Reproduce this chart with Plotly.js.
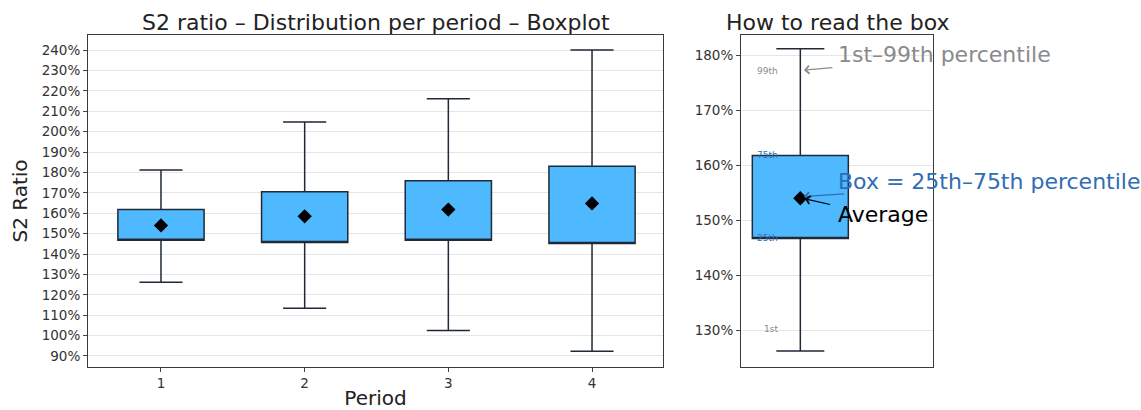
<!DOCTYPE html>
<html>
<head>
<meta charset="utf-8">
<script src="https://cdn.plot.ly/plotly-3.0.1.min.js"></script>
<style>html,body{margin:0;padding:0;background:#fff;}#chart{width:1141px;height:410px;}</style>
</head>
<body>
<div id="chart"></div>
<script>
// ---- data (S2 ratio, %) ----
const periods = [1, 2, 3, 4];
const p1 = [126.2, 113.4, 102.5, 92.3];     // 1st percentile (lower whisker)
const q1 = [146.7, 145.6, 146.8, 145.1];    // 25th percentile
const q3 = [161.8, 170.5, 175.9, 183.1];    // 75th percentile
const p99 = [181.2, 204.7, 216.1, 240.0];   // 99th percentile (upper whisker)
const avg = [154.0, 158.5, 161.8, 164.8];   // average
const yTicksLeft = [90, 100, 110, 120, 130, 140, 150, 160, 170, 180, 190, 200, 210, 220, 230, 240];
const yTicksRight = [130, 140, 150, 160, 170, 180];

// example box = period 1
const ex = 0;

const FONT = 'DejaVu Sans, Verdana, sans-serif';
const BOXFILL = '#4fb9ff';
const BOXLINE = '#1f2937';
const BLUE = '#2f6db5';
const GRAY = '#8a8a8a';

const traces = [
  {
    type: 'box', x: periods, q1: q1, median: q1, q3: q3,
    lowerfence: p1, upperfence: p99,
    width: 0.6, whiskerwidth: 0.5,
    fillcolor: BOXFILL, line: {color: BOXLINE, width: 1.5},
    boxpoints: false, showlegend: false, hoverinfo: 'skip',
    xaxis: 'x', yaxis: 'y'
  },
  {
    type: 'scatter', mode: 'markers', x: periods, y: avg,
    marker: {symbol: 'diamond', size: 11, color: '#000'},
    showlegend: false, hoverinfo: 'skip', xaxis: 'x', yaxis: 'y'
  },
  {
    type: 'box', x: [1], q1: [q1[ex]], median: [q1[ex]], q3: [q3[ex]],
    lowerfence: [p1[ex]], upperfence: [p99[ex]],
    width: 0.5, whiskerwidth: 0.5,
    fillcolor: BOXFILL, line: {color: BOXLINE, width: 1.5},
    boxpoints: false, showlegend: false, hoverinfo: 'skip',
    xaxis: 'x2', yaxis: 'y2'
  },
  {
    type: 'scatter', mode: 'markers', x: [1], y: [avg[ex]],
    marker: {symbol: 'diamond', size: 11, color: '#000'},
    showlegend: false, hoverinfo: 'skip', xaxis: 'x2', yaxis: 'y2'
  }
];

const W = 1141, H = 410;
const dom = (a, b) => [a / W, b / W];
const ydom = [(H - 367) / H, (H - 35) / H];

const axisCommon = {
  showline: true, mirror: true, linecolor: '#3a3a3a', linewidth: 1,
  zeroline: false, ticks: 'outside', ticklen: 4, tickcolor: '#444', tickwidth: 1,
  tickfont: {family: FONT, size: 13.5, color: '#333'}
};

const annotations = [
  {xref: 'paper', yref: 'paper', x: (88 + 663) / 2 / W, y: 1 - 22 / H, xanchor: 'center', yanchor: 'middle',
   text: 'S2 ratio – Distribution per period – Boxplot', showarrow: false,
   font: {family: FONT, size: 22, color: '#222'}},
  {xref: 'paper', yref: 'paper', x: (741 + 933) / 2 / W, y: 1 - 22 / H, xanchor: 'center', yanchor: 'middle',
   text: 'How to read the box', showarrow: false,
   font: {family: FONT, size: 22, color: '#222'}},
  // small labels
  {xref: 'x2', yref: 'y2', x: 0.895, y: p99[ex] - 4, xanchor: 'right', yanchor: 'middle', text: '99th', showarrow: false,
   font: {family: FONT, size: 9, color: GRAY}},
  {xref: 'x2', yref: 'y2', x: 0.895, y: q3[ex], xanchor: 'right', yanchor: 'middle', text: '75th', showarrow: false,
   font: {family: FONT, size: 9, color: BLUE}},
  {xref: 'x2', yref: 'y2', x: 0.895, y: q1[ex], xanchor: 'right', yanchor: 'middle', text: '25th', showarrow: false,
   font: {family: FONT, size: 9, color: BLUE}},
  {xref: 'x2', yref: 'y2', x: 0.895, y: p1[ex] + 4, xanchor: 'right', yanchor: 'middle', text: '1st', showarrow: false,
   font: {family: FONT, size: 9, color: GRAY}},
  // explanation texts
  {xref: 'x2', yref: 'y2', x: 1.186, y: 180.2, xanchor: 'left', yanchor: 'middle', text: '1st–99th percentile', showarrow: false,
   font: {family: FONT, size: 22, color: GRAY}},
  {xref: 'x2', yref: 'y2', x: 1.186, y: 157.1, xanchor: 'left', yanchor: 'middle', text: 'Box = 25th–75th percentile', showarrow: false,
   font: {family: FONT, size: 22, color: BLUE}},
  {xref: 'x2', yref: 'y2', x: 1.186, y: 151.1, xanchor: 'left', yanchor: 'middle', text: 'Average', showarrow: false,
   font: {family: FONT, size: 22, color: '#000'}},
  // arrows
  {xref: 'x2', yref: 'y2', axref: 'x2', ayref: 'y2', x: 1.019, y: 177.3, ax: 1.175, ay: 177.8, text: '',
   showarrow: true, arrowhead: 4, arrowsize: 1.3, arrowwidth: 1.2, arrowcolor: GRAY, standoff: 0, startstandoff: 0},
  {xref: 'x2', yref: 'y2', axref: 'x2', ayref: 'y2', x: 1.019, y: 154.3, ax: 1.236, ay: 154.8, text: '',
   showarrow: true, arrowhead: 4, arrowsize: 1.3, arrowwidth: 1.2, arrowcolor: BLUE, standoff: 0, startstandoff: 0},
  {xref: 'x2', yref: 'y2', axref: 'x2', ayref: 'y2', x: 1.024, y: 153.9, ax: 1.163, ay: 152.8, text: '',
   showarrow: true, arrowhead: 4, arrowsize: 1.3, arrowwidth: 1.2, arrowcolor: '#000', standoff: 0, startstandoff: 0}
];

const layout = {
  width: W, height: H,
  margin: {l: 0, r: 0, t: 0, b: 0},
  paper_bgcolor: '#fff', plot_bgcolor: '#fff',
  font: {family: FONT},
  showlegend: false,
  xaxis: Object.assign({}, axisCommon, {
    domain: dom(88, 663), range: [0.492, 4.494],
    tickvals: periods, ticktext: periods.map(String), showgrid: false,
    title: {text: 'Period', font: {family: FONT, size: 20, color: '#222'}, standoff: 8},
    automargin: false
  }),
  yaxis: Object.assign({}, axisCommon, {
    domain: ydom, range: [84.6, 247.4],
    tickvals: yTicksLeft, ticktext: yTicksLeft.map(v => v + '%'),
    showgrid: true, gridcolor: '#e6e6e6', gridwidth: 1,
    title: {text: 'S2 Ratio', font: {family: FONT, size: 20, color: '#222'}, standoff: 8},
    automargin: false
  }),
  xaxis2: Object.assign({}, axisCommon, {
    domain: dom(741, 933), range: [0.691, 1.691], anchor: 'y2',
    showticklabels: false, ticks: '', showgrid: false, automargin: false
  }),
  yaxis2: Object.assign({}, axisCommon, {
    domain: ydom, range: [123.3, 183.7], anchor: 'x2',
    tickvals: yTicksRight, ticktext: yTicksRight.map(v => v + '%'),
    showgrid: true, gridcolor: '#e6e6e6', gridwidth: 1, automargin: false
  }),
  annotations: annotations
};

Plotly.newPlot('chart', traces, layout, {displayModeBar: false, staticPlot: true});
</script>
</body>
</html>
